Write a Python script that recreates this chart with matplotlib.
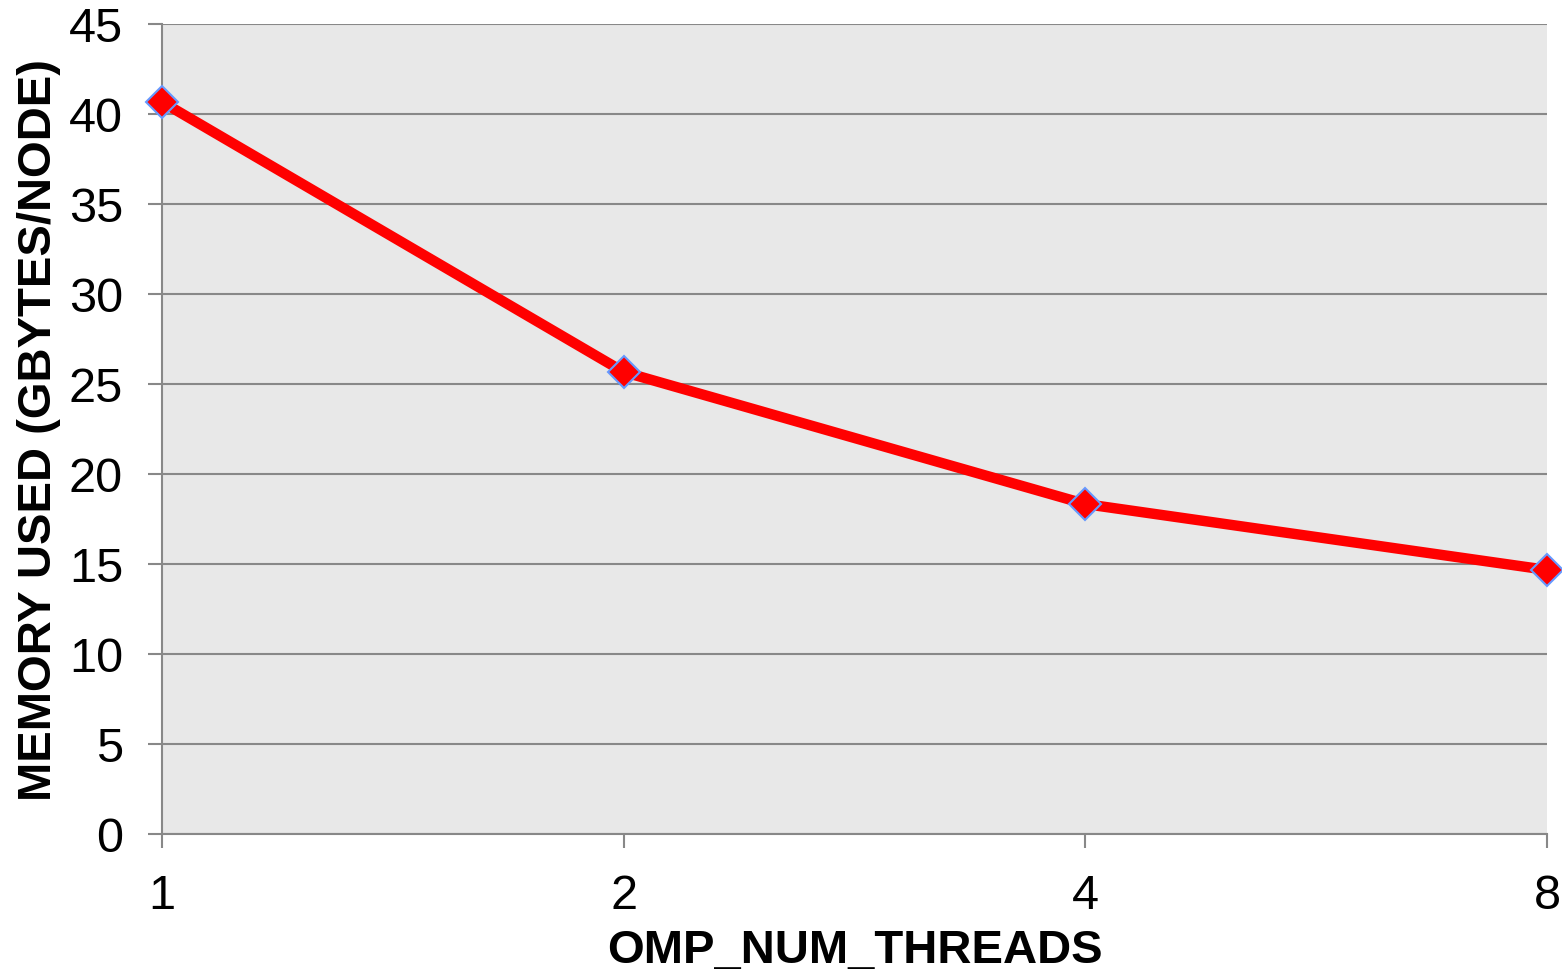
import matplotlib
matplotlib.use("Agg")
import matplotlib.pyplot as plt

threads = [1, 2, 4, 8]
memory = [40.67, 25.67, 18.33, 14.67]
yticks = [0, 5, 10, 15, 20, 25, 30, 35, 40, 45]

plt.rcParams['font.family'] = ['Liberation Sans', 'DejaVu Sans']

fig = plt.figure(figsize=(15.62, 9.78), dpi=100)
ax = fig.add_axes([162/1562, 1 - 835/978, (1547-162)/1562, (835-25)/978])
ax.set_facecolor('#e8e8e8')

ax.set_xscale('log', base=2)
ax.set_xlim(1, 8)
ax.set_ylim(0, 45)
ax.set_yticks(yticks)
ax.set_yticklabels([str(t) for t in yticks])
ax.set_xticks(threads)
ax.set_xticklabels([str(t) for t in threads])
ax.minorticks_off()

ax.grid(axis='y', color='#888888', linewidth=1.5)
ax.set_axisbelow(True)
for s in ['top', 'right']:
    ax.spines[s].set_visible(False)
for s in ['left', 'bottom']:
    ax.spines[s].set_color('#888888')
    ax.spines[s].set_linewidth(1.5)

ax.tick_params(axis='both', direction='out', length=10, width=1.5, color='#888888',
               labelsize=35, pad=18)

ax.plot(threads, memory, color='#ff0000', linewidth=7.5, marker='D', markersize=16,
        markerfacecolor='#ff0000', markeredgecolor='#6699ff', markeredgewidth=1.5,
        clip_on=False, zorder=5)

ax.set_xlabel('OMP_NUM_THREADS', fontsize=34, fontweight='bold', labelpad=7)
ax.set_ylabel('MEMORY USED (GBYTES/NODE)', fontsize=34, fontweight='bold', labelpad=6)

fig.savefig('out.png', dpi=100)
